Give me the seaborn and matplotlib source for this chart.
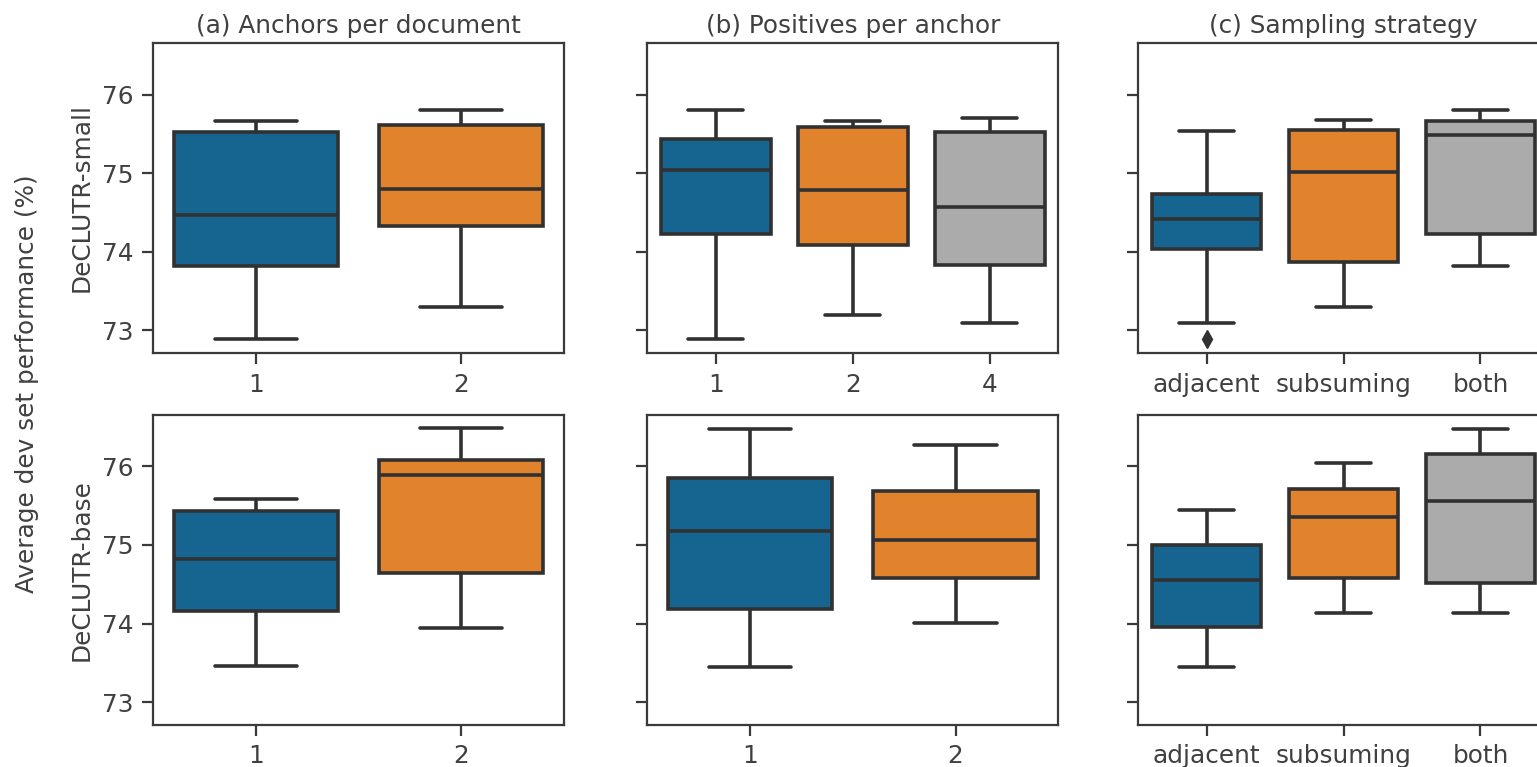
import pandas as pd
import seaborn as sns
import matplotlib.pyplot as plt

sns.set_style('ticks')
plt.rcParams['font.family'] = ['DejaVu Sans']

# categories
anchor_cats = ['1', '2']
positive_cats_small = ['1', '2', '4']
positive_cats_base = ['1', '2']
sampling_cats = ['adjacent', 'subsuming', 'both']

# DeCLUTR-small (min, q1, median, q3, max per group)
small_anchors = [[72.89, 73.82, 74.47, 75.52, 75.66],
                 [73.30, 74.33, 74.80, 75.61, 75.81]]
small_positives = [[72.89, 74.23, 75.04, 75.44, 75.81],
                   [73.20, 74.09, 74.78, 75.59, 75.66],
                   [73.09, 73.83, 74.57, 75.53, 75.70]]
small_sampling = [[72.89, 73.09, 74.04, 74.04, 74.42, 74.74, 74.74, 75.54, 75.54],
                  [73.30, 73.87, 75.01, 75.55, 75.68],
                  [73.82, 74.23, 75.49, 75.66, 75.81]]

# DeCLUTR-base
base_anchors = [[73.46, 74.16, 74.82, 75.43, 75.58],
                [73.94, 74.65, 75.89, 76.08, 76.49]]
base_positives = [[73.45, 74.18, 75.18, 75.85, 76.48],
                  [74.01, 74.58, 75.06, 75.69, 76.27]]
base_sampling = [[73.45, 73.96, 74.55, 75.00, 75.45],
                 [74.14, 74.58, 75.36, 75.71, 76.04],
                 [74.13, 74.52, 75.56, 76.16, 76.48]]

palette = ['#006BA4', '#FF800E', '#ABABAB']
line_col = '#313131'
txt_col = '#404040'
fs = 17.8


def to_frame(cats, groups):
    rows = []
    for c, vals in zip(cats, groups):
        for v in vals:
            rows.append({'cat': c, 'score': v})
    return pd.DataFrame(rows)


panels = [
    [(anchor_cats, small_anchors), (positive_cats_small, small_positives), (sampling_cats, small_sampling)],
    [(anchor_cats, base_anchors), (positive_cats_base, base_positives), (sampling_cats, base_sampling)],
]
titles = ['(a) Anchors per document', '(b) Positives per anchor', '(c) Sampling strategy']
row_labels = ['DeCLUTR-small', 'DeCLUTR-base']

W, H = 1537, 767
fig = plt.figure(figsize=(W / 100, H / 100), dpi=100)
lefts = [153, 647.3, 1138]
tops = [42.7, 414.5]
aw, ah = 411, 310.5

for r in range(2):
    for c in range(3):
        ax = fig.add_axes([lefts[c] / W, 1 - (tops[r] + ah) / H, aw / W, ah / H])
        cats, groups = panels[r][c]
        df = to_frame(cats, groups)
        sns.boxplot(x='cat', y='score', hue='cat', data=df, order=cats, hue_order=cats,
                    palette=palette[:len(cats)], ax=ax, legend=False, width=0.8,
                    linewidth=2.6, linecolor=line_col,
                    flierprops=dict(marker='d', markerfacecolor=line_col,
                                    markeredgecolor=line_col, markersize=9))
        ax.set_ylim(72.71, 76.66)
        ax.set_yticks([73, 74, 75, 76])
        ax.set_xlabel('')
        for s in ax.spines.values():
            s.set_linewidth(1.6)
            s.set_color('#3a3a3a')
        ax.tick_params(length=8, width=1.6, labelsize=fs, pad=6, colors='#3a3a3a',
                       labelcolor=txt_col)
        if c == 0:
            ax.set_ylabel(row_labels[r], fontsize=fs, labelpad=6, color=txt_col)
        else:
            ax.set_ylabel('')
            ax.set_yticklabels([])
        if r == 0:
            ax.set_title(titles[c], fontsize=fs, pad=7, color=txt_col)

fig.text(27 / W, 1 - 384 / H, 'Average dev set performance (%)', rotation=90,
         ha='center', va='center', fontsize=fs, color=txt_col)

plt.savefig('out.png', dpi=100)
